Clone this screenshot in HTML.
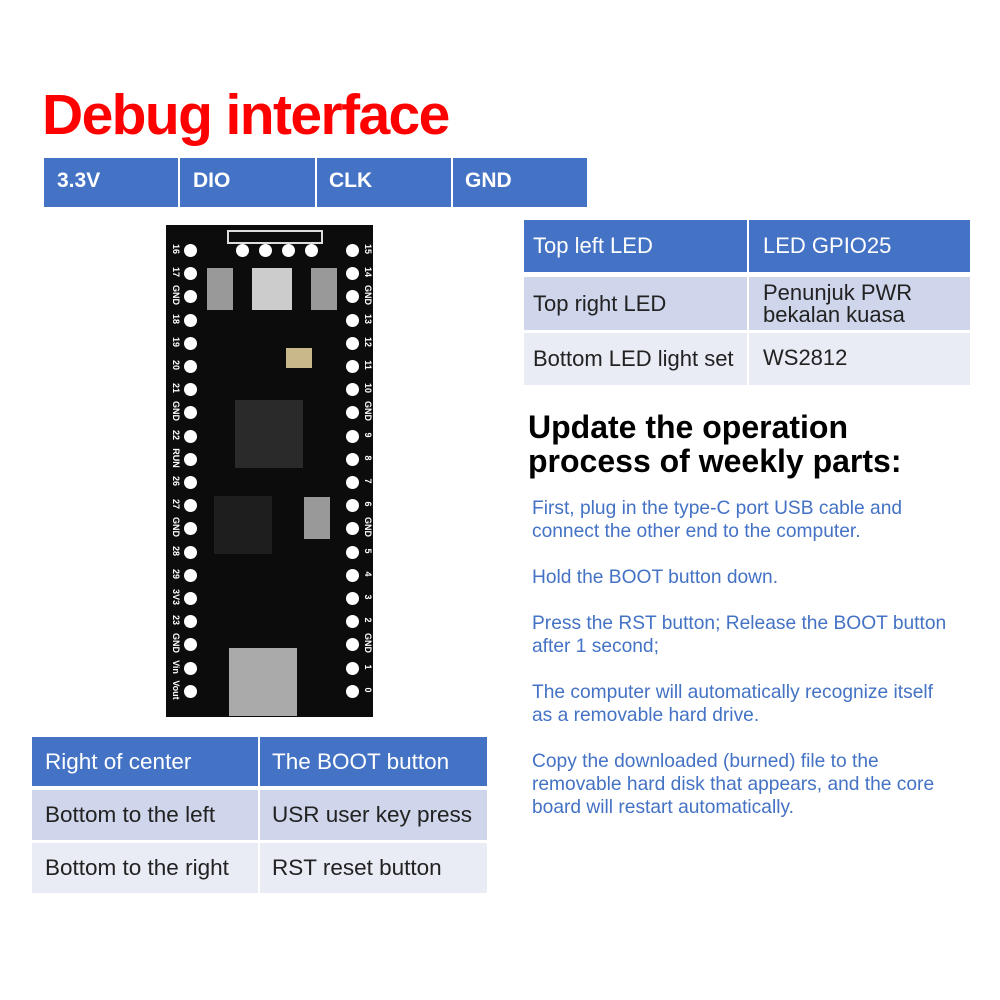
<!DOCTYPE html>
<html><head><style>
body{margin:0;width:1000px;height:1000px;background:#fff;position:relative;overflow:hidden;font-family:"Liberation Sans",sans-serif}
.a{position:absolute}
.c{position:absolute;box-sizing:border-box;padding-left:9px;display:flex;align-items:center;font-size:22px;color:#222}
.h{background:#4472c4;color:#fff}
.g1{background:#cfd5ea}.g2{background:#e9ebf5}
.t{position:absolute;color:#4472c4;font-size:19.2px;line-height:23px;left:532px;white-space:nowrap}
.pin{position:absolute;width:13px;height:13px;border-radius:50%;background:#fff}
.lb{position:absolute;color:#fff;font-size:9px;font-weight:bold;transform:rotate(90deg);width:24px;text-align:center}
</style></head><body>
<div class="a" style="left:42px;top:82px;font-size:57px;font-weight:bold;color:#f00;letter-spacing:-1.6px">Debug interface</div>
<div class="a h" style="left:44px;top:158px;width:543px;height:49px"></div>
<div class="a" style="left:178px;top:158px;width:2px;height:49px;background:#fff"></div>
<div class="a" style="left:315px;top:158px;width:2px;height:49px;background:#fff"></div>
<div class="a" style="left:451px;top:158px;width:2px;height:49px;background:#fff"></div>
<div class="a" style="left:57px;top:169px;color:#fff;font-weight:bold;font-size:21px">3.3V</div>
<div class="a" style="left:193px;top:169px;color:#fff;font-weight:bold;font-size:21px">DIO</div>
<div class="a" style="left:329px;top:169px;color:#fff;font-weight:bold;font-size:21px">CLK</div>
<div class="a" style="left:465px;top:169px;color:#fff;font-weight:bold;font-size:21px">GND</div>

<div class="c h" style="left:524px;top:220px;width:223px;height:52px">Top left LED</div>
<div class="c h" style="left:749px;top:220px;width:221px;height:52px;padding-left:14px">LED GPIO25</div>
<div class="c g1" style="left:524px;top:277px;width:223px;height:53px">Top right LED</div>
<div class="c g1" style="left:749px;top:277px;width:221px;height:53px;line-height:22px;padding-left:14px">Penunjuk PWR<br>bekalan kuasa</div>
<div class="c g2" style="left:524px;top:333px;width:223px;height:52px">Bottom LED light set</div>
<div class="c g2" style="left:749px;top:333px;width:221px;height:52px;align-items:flex-start;padding-top:12px;padding-left:14px">WS2812</div>

<div class="a" style="left:528px;top:410px;font-size:32px;font-weight:bold;line-height:34px;color:#000;white-space:nowrap">Update the operation<br>process of weekly parts:</div>
<div class="t" style="top:497px">First, plug in the type-C port USB cable and<br>connect the other end to the computer.</div>
<div class="t" style="top:566px">Hold the BOOT button down.</div>
<div class="t" style="top:612px">Press the RST button; Release the BOOT button<br>after 1 second;</div>
<div class="t" style="top:681px">The computer will automatically recognize itself<br>as a removable hard drive.</div>
<div class="t" style="top:750px">Copy the downloaded (burned) file to the<br>removable hard disk that appears, and the core<br>board will restart automatically.</div>

<div class="c h" style="left:32px;top:737px;width:226px;height:49px;padding-left:13px;font-size:22.5px">Right of center</div>
<div class="c h" style="left:260px;top:737px;width:227px;height:49px;padding-left:12px;font-size:22.5px">The BOOT button</div>
<div class="c g1" style="left:32px;top:790px;width:226px;height:50px;padding-left:13px;font-size:22.5px">Bottom to the left</div>
<div class="c g1" style="left:260px;top:790px;width:227px;height:50px;padding-left:12px;font-size:22.5px">USR user key press</div>
<div class="c g2" style="left:32px;top:843px;width:226px;height:50px;padding-left:13px;font-size:22.5px">Bottom to the right</div>
<div class="c g2" style="left:260px;top:843px;width:227px;height:50px;padding-left:12px;font-size:22.5px">RST reset button</div>

<div class="a" style="left:166px;top:225px;width:207px;height:492px;background:#0c0c0c"></div>
<div class="a" style="left:227px;top:230px;width:92px;height:10px;border:2px solid #ddd"></div>
<div class="a" style="left:235px;top:400px;width:68px;height:68px;background:#2a2a2a"></div>
<div class="a" style="left:214px;top:496px;width:58px;height:58px;background:#1e1e1e"></div>
<div class="a" style="left:252px;top:268px;width:40px;height:42px;background:#ccc"></div>
<div class="a" style="left:207px;top:268px;width:26px;height:42px;background:#999"></div>
<div class="a" style="left:311px;top:268px;width:26px;height:42px;background:#999"></div>
<div class="a" style="left:304px;top:497px;width:26px;height:42px;background:#999"></div>
<div class="a" style="left:229px;top:648px;width:68px;height:68px;background:#aaa"></div>
<div class="a" style="left:286px;top:348px;width:26px;height:20px;background:#c9b88a"></div>
<div id="pins"></div>
<script>
var L=["16","17","GND","18","19","20","21","GND","22","RUN","26","27","GND","28","29","3V3","23","GND","Vin","Vout"];
var R=["15","14","GND","13","12","11","10","GND","9","8","7","6","GND","5","4","3","2","GND","1","0"];
var h="";
for(var i=0;i<20;i++){var y=250+i*23.2;
h+='<div class="pin" style="left:184px;top:'+(y-6)+'px"></div><div class="pin" style="left:346px;top:'+(y-6)+'px"></div>';
h+='<div class="lb" style="left:164px;top:'+(y-6)+'px">'+L[i]+'</div><div class="lb" style="left:356px;top:'+(y-6)+'px">'+R[i]+'</div>';}
for(var j=0;j<4;j++)h+='<div class="pin" style="left:'+(236+j*23)+'px;top:244px"></div>';
document.getElementById("pins").innerHTML=h;
</script>
</body></html>
